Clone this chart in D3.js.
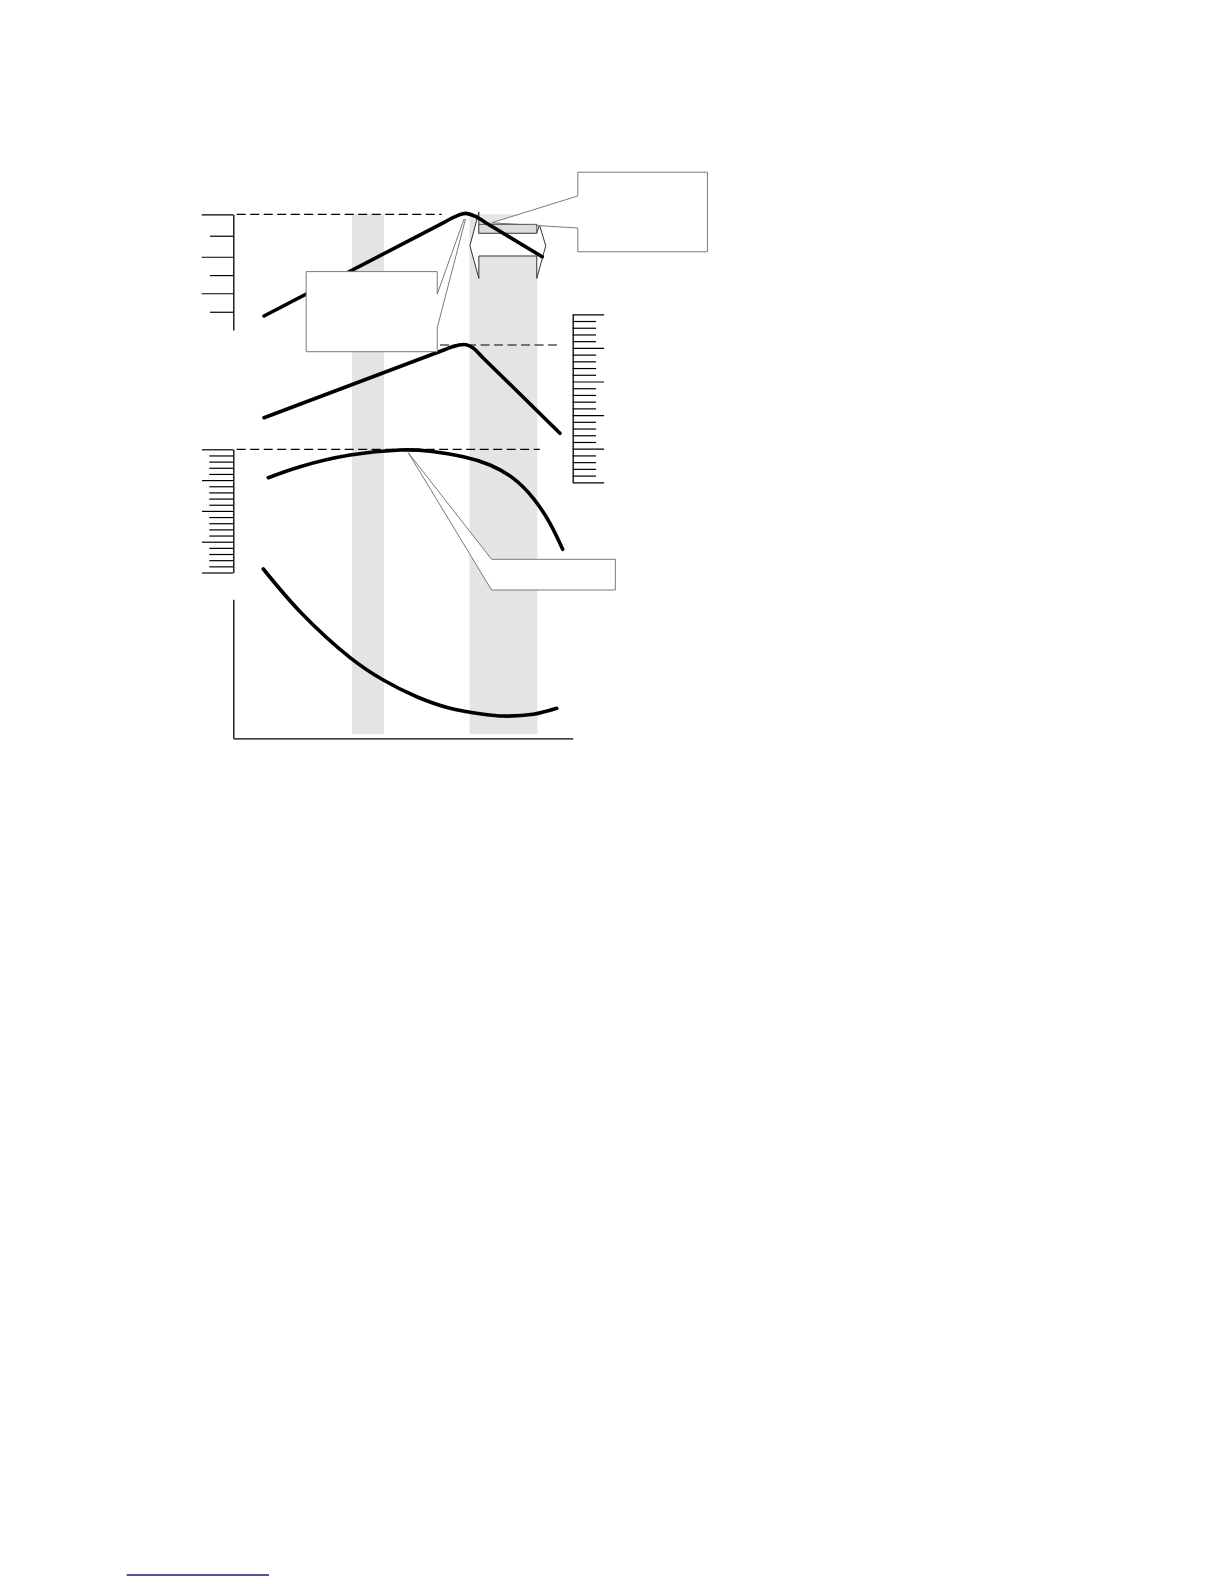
<!DOCTYPE html>
<html><head><meta charset="utf-8">
<script src="https://cdn.jsdelivr.net/npm/d3@7"></script>
<style>html,body{margin:0;padding:0;background:#fff;} svg{display:block;}</style>
</head><body>
<svg id="chart" width="1224" height="1584"></svg>
<script>
// ---------------- data (arbitrary units) ----------------
const bandStarts = [35.0, 69.6];
const bandEnds   = [44.4, 89.6];

// panel 1 (top, left scale): straight rise, rounded peak, straight fall
const s1X = [9.05, 62.41, 65.36, 68.42, 71.21, 74.15, 91.04];
const s1Y = [0.73, 5.61, 5.88, 6.05, 5.90, 5.59, 3.80];
const axis1Major = [1.91, 3.80, 6.0];
const axis1Minor = [0.95, 2.85, 4.89];

// panel 2 (right scale)
const s2X = [9.05, 62.41, 64.77, 68.01, 70.66, 73.32, 96.24];
const s2Y = [9.61, 19.76, 20.22, 20.51, 19.99, 18.66, 7.29];
const axis2Major = [0, 5, 10, 15, 20, 25];
const axis2Minor = d3.range(0, 26).filter(v => v % 5 !== 0);

// panel 3 (middle-left scale)
const s3X = [10.31, 19.68, 34.41, 49.12, 57.96, 67.77, 75.63, 82.50, 88.39, 93.31, 97.05];
const s3Y = [15.39, 17.18, 19.07, 19.89, 19.68, 18.80, 17.45, 15.29, 12.05, 7.99, 3.77];
const axis3Major = [0, 5, 10, 15, 20];
const axis3Minor = d3.range(0, 21).filter(v => v % 5 !== 0);

// panel 4 (bottom)
const s4X = [8.84, 19.68, 34.41, 44.20, 54.04, 63.85, 73.66, 79.55, 88.39, 95.29];
const s4Y = [12.18, 9.11, 5.81, 4.19, 2.99, 2.16, 1.73, 1.60, 1.73, 2.16];

// reference (peak) levels
const ref1 = {x0: 1.0, x1: 61.4, y: 6.0};
const ref2 = {x0: 45, x1: 95.5, y: 20.43};
const ref3 = {x0: 1.0, x1: 90.3, y: 20.0};

// ---------------- scales ----------------
const svg = d3.select('#chart');
const x  = d3.scaleLinear([0, 100], [233.3, 572.7]);
const y1 = d3.scaleLinear([0, 6],   [330.1, 214.3]);
const y2 = d3.scaleLinear([0, 25],  [482.3, 314.3]);
const y3 = d3.scaleLinear([0, 20],  [572.5, 449.3]);
const y4 = d3.scaleLinear([0, 10],  [738.3, 599.3]);

// ---------------- bands ----------------
svg.append('g').selectAll('rect').data(d3.zip(bandStarts, bandEnds)).join('rect')
  .attr('x', d => x(d[0])).attr('width', d => x(d[1]) - x(d[0]))
  .attr('y', y1(6)).attr('height', y4(0.3) - y1(6))
  .attr('fill', '#e4e4e4');

// ---------------- double-headed arrow (white) ----------------
const arrowPts = [
  [69.71, 4.37], [72.35, 6.12], [72.35, 5.02], [89.41, 5.02], [90.2, 5.45],
  [92.06, 4.37], [89.41, 2.68], [89.41, 3.84], [72.35, 3.84], [72.35, 2.68]
];
svg.append('path')
  .attr('d', d3.line().x(d => x(d[0])).y(d => y1(d[1])).curve(d3.curveLinearClosed)(arrowPts))
  .attr('fill', '#fff').attr('stroke', '#333').attr('stroke-width', 1);

// ---------------- callout helper ----------------
function callout(poly, sy) {
  svg.append('path')
    .attr('d', d3.line().x(d => x(d[0])).y(d => sy(d[1])).curve(d3.curveLinearClosed)(poly))
    .attr('fill', '#fff').attr('stroke', '#7a7a7a').attr('stroke-width', 1)
    .attr('stroke-linejoin', 'miter');
}

// top-right callout (pointing into the gray box)
callout([
  [101.5, 6.95], [101.5, 8.18], [139.7, 8.18], [139.7, 4.06], [101.5, 4.06], [101.5, 5.29], [76.1, 5.56]
], y1);

// gray small box
svg.append('rect')
  .attr('x', x(72.35)).attr('width', x(89.41) - x(72.35))
  .attr('y', y1(5.48)).attr('height', y1(5.02) - y1(5.48))
  .attr('fill', '#dcdcdc').attr('stroke', '#555').attr('stroke-width', 1);

// ---------------- dashed reference lines ----------------
const dash = (r, sy) => svg.append('line')
  .attr('x1', x(r.x0)).attr('x2', x(r.x1)).attr('y1', sy(r.y)).attr('y2', sy(r.y))
  .attr('stroke', '#000').attr('stroke-width', 1.2).attr('stroke-dasharray', '9,4.5');
dash(ref1, y1); dash(ref2, y2); dash(ref3, y3);

// ---------------- axes ----------------
function styleAxis(g, keepDomain) {
  g.selectAll('text').remove();
  g.selectAll('line').attr('stroke', '#000').attr('stroke-width', 1.2);
  g.select('.domain').attr('stroke', '#000').attr('stroke-width', 1.3);
  if (!keepDomain) g.select('.domain').remove();
}
// axis 1
svg.append('g').attr('transform', `translate(${x(0)},0)`)
  .call(d3.axisLeft(y1).tickValues(axis1Major).tickSize(31.6).tickSizeOuter(0).tickFormat(''))
  .call(g => styleAxis(g, true));
svg.append('g').attr('transform', `translate(${x(0)},0)`)
  .call(d3.axisLeft(y1).tickValues(axis1Minor).tickSize(23.3).tickSizeOuter(0).tickFormat(''))
  .call(g => styleAxis(g, false));
// axis 2 (right)
svg.append('g').attr('transform', `translate(${x(100)},0)`)
  .call(d3.axisRight(y2).tickValues(axis2Major).tickSize(31.4).tickSizeOuter(0).tickFormat(''))
  .call(g => styleAxis(g, true));
svg.append('g').attr('transform', `translate(${x(100)},0)`)
  .call(d3.axisRight(y2).tickValues(axis2Minor).tickSize(23.4).tickSizeOuter(0).tickFormat(''))
  .call(g => styleAxis(g, false));
// axis 3
svg.append('g').attr('transform', `translate(${x(0)},0)`)
  .call(d3.axisLeft(y3).tickValues(axis3Major).tickSize(31.3).tickSizeOuter(0).tickFormat(''))
  .call(g => styleAxis(g, true));
svg.append('g').attr('transform', `translate(${x(0)},0)`)
  .call(d3.axisLeft(y3).tickValues(axis3Minor).tickSize(24).tickSizeOuter(0).tickFormat(''))
  .call(g => styleAxis(g, false));
// axis 4 (bottom panel frame)
svg.append('g').attr('transform', `translate(${x(0)},0)`)
  .call(d3.axisLeft(y4).tickValues([]).tickSizeOuter(0))
  .call(g => styleAxis(g, true));
svg.append('g').attr('transform', `translate(0,${y4(0)})`)
  .call(d3.axisBottom(x).tickValues([]).tickSizeOuter(0))
  .call(g => styleAxis(g, true));

// ---------------- series lines ----------------
function series(xs, ys, sy, curve) {
  svg.append('path')
    .attr('d', d3.line().x(d => x(d[0])).y(d => sy(d[1])).curve(curve)(d3.zip(xs, ys)))
    .attr('fill', 'none').attr('stroke', '#000').attr('stroke-width', 3.6)
    .attr('stroke-linecap', 'round').attr('stroke-linejoin', 'round');
}
series(s1X, s1Y, y1, d3.curveMonotoneX);
series(s2X, s2Y, y2, d3.curveMonotoneX);
series(s3X, s3Y, y3, d3.curveNatural);
series(s4X, s4Y, y4, d3.curveCatmullRom.alpha(0.5));

// ---------------- remaining callouts ----------------
// middle-left callout pointing to peak of top curve
callout([
  [60.09, 1.87], [60.09, 3.03], [21.47, 3.03], [21.47, -1.12], [60.09, -1.12], [60.09, 0.12],
  [68.38, 5.73], [67.94, 5.73]
], y1);
// lower-right callout pointing to peak of third curve
callout([
  [51.56, 19.45], [76.09, 2.14], [112.56, 2.14], [112.56, -2.84], [76.09, -2.84]
], y3);

// footer rule
svg.append('line').attr('x1', 126.7).attr('x2', 269).attr('y1', 1575).attr('y2', 1575)
  .attr('stroke', '#1a1a85').attr('stroke-width', 1.5);
</script>
</body></html>
